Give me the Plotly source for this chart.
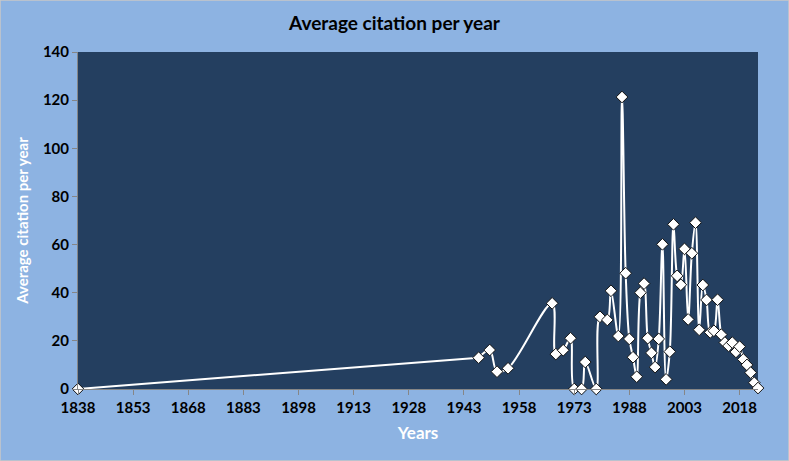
import plotly.graph_objects as go

# years
years = [1838, 1947, 1950, 1952, 1955, 1967, 1968, 1970, 1972, 1973, 1975, 1976,
         1979, 1980, 1982, 1983, 1985, 1986, 1987, 1988, 1989, 1990, 1991, 1992,
         1993, 1994, 1995, 1996, 1997, 1998, 1999, 2000, 2001, 2002, 2003, 2004,
         2005, 2006, 2007, 2008, 2009, 2010, 2011, 2012, 2013, 2014, 2015, 2016,
         2017, 2018, 2019, 2020, 2021, 2022, 2023]

# average citation per year
avg_citation = [0, 13.0, 16.2, 7.2, 8.6, 35.6, 14.5, 16.1, 21.1, 0, 0, 11.2,
                0, 30.0, 28.7, 40.8, 22.0, 121.3, 48.1, 20.8, 13.2, 5.1, 40.0, 43.8,
                21.1, 15.0, 9.1, 20.8, 60.1, 4.0, 15.5, 68.4, 47.0, 43.3, 58.2, 28.9,
                56.4, 69.1, 24.6, 43.2, 37.0, 23.5, 24.2, 37.1, 22.6, 19.3, 17.9, 19.3,
                15.4, 17.6, 12.3, 10.0, 6.8, 2.6, 0.4]

x_ticks = list(range(1838, 2019, 15))
y_ticks = list(range(0, 141, 20))

fig = go.Figure()
# long gap 1838 -> 1947 is a straight segment in the original
fig.add_trace(go.Scatter(
    x=years[:2], y=avg_citation[:2], mode="lines",
    line=dict(color="white", width=2), showlegend=False, hoverinfo="skip",
))
fig.add_trace(go.Scatter(
    x=years[1:], y=avg_citation[1:], mode="lines",
    line=dict(color="white", width=2, shape="spline", smoothing=1),
    showlegend=False, hoverinfo="skip",
))
fig.add_trace(go.Scatter(
    x=years, y=avg_citation, mode="markers", cliponaxis=False,
    marker=dict(symbol="diamond", size=9, color="white",
                line=dict(color="#111111", width=1)),
    showlegend=False,
))

fig.update_layout(
    width=789, height=461,
    paper_bgcolor="#8DB3E2",
    plot_bgcolor="#243F60",
    margin=dict(l=78, r=31, t=52, b=72),
    font=dict(family="Lato", color="black"),
    title=dict(text="Average citation per year", x=0.5, xanchor="center",
               y=0.95, yanchor="middle",
               font=dict(size=19, weight="bold", color="black")),
)

fig.update_xaxes(
    range=[1838, 2023], tickvals=x_ticks, showgrid=False, zeroline=False,
    showline=True, linecolor="#868686", ticks="outside", tickcolor="#868686",
    ticklen=5, tickfont=dict(size=15, weight="bold"), automargin=False,
    title=dict(text="Years", font=dict(size=17, weight="bold", color="white"),
               standoff=12),
)
fig.update_yaxes(
    range=[0, 140], tickvals=y_ticks, showgrid=False, zeroline=False,
    showline=True, linecolor="#868686", ticks="outside", tickcolor="#868686",
    ticklen=5, tickfont=dict(size=15, weight="bold"), automargin=False,
    title=dict(text="Average citation per year",
               font=dict(size=15, weight="bold", color="white"), standoff=10),
)

fig.add_shape(type="rect", xref="paper", yref="paper",
              x0=-78/680, x1=1+31/680, y0=-72/337, y1=1+52/337,
              line=dict(color="#C8C8C8", width=1.5))

fig.write_html("out.html", config={"displayModeBar": False},
               post_script="document.body.style.margin='0';")
